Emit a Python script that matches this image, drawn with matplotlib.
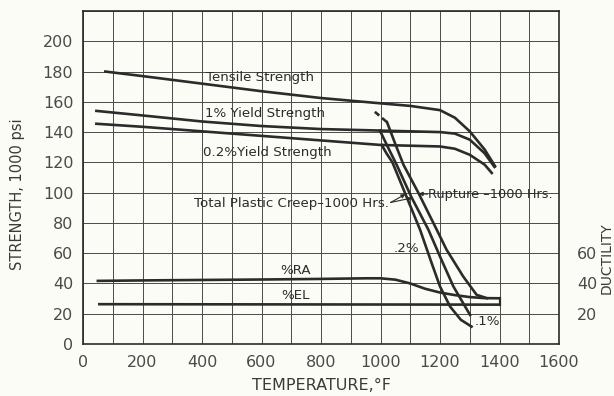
import matplotlib
matplotlib.use("Agg")
import matplotlib.pyplot as plt
import numpy as np

# Temperature (deg F) and strength (1000 psi) readings for each curve
tensile_T = [75, 200, 400, 600, 800, 1000, 1100, 1200, 1250, 1300, 1350, 1385]
tensile_S = [180, 177, 172, 167, 162.5, 159, 157.3, 154.5, 149.5, 140.5, 128.5, 117.5]

yield1_T = [45, 200, 400, 600, 800, 1000, 1200, 1250, 1300, 1350, 1383]
yield1_S = [154, 151, 147, 144, 142, 141, 140, 139, 135, 126, 117]

yield02_T = [45, 200, 400, 600, 800, 1000, 1200, 1250, 1300, 1350, 1374]
yield02_S = [145.5, 143.5, 140.5, 137.5, 134.5, 131.5, 130.5, 129, 125, 118.5, 113]

creep01_T = [1004, 1020, 1040, 1085, 1133, 1172, 1200, 1234, 1270, 1306]
creep01_S = [131.5, 126, 120, 98.5, 75.5, 53.4, 38, 24.7, 16, 11.5]

creep02_T = [998, 1026, 1054, 1104, 1161, 1200, 1245, 1301]
creep02_S = [141, 129.6, 118.5, 97, 75.5, 57.8, 38, 19.2]

rupture_dash_T = [981, 1022]
rupture_dash_S = [153.4, 146.5]
rupture_T = [1022, 1050, 1077, 1127, 1189, 1222, 1278, 1323, 1357]
rupture_S = [146.5, 132, 118.5, 100, 75.5, 62.3, 44.6, 32.5, 30.3]

# Ductility (%) readings
ra_T = [50, 200, 400, 600, 800, 950, 1000, 1050, 1100, 1150, 1200, 1250, 1300, 1350, 1400]
ra_S = [41.7, 42, 42.3, 42.6, 43, 43.4, 43.4, 42.5, 40, 36.5, 34, 32.3, 31, 30.3, 30.2]

el_T = [55, 1400]
el_S = [26.3, 26.0]

x_ticks = [0, 200, 400, 600, 800, 1000, 1200, 1400, 1600]
y_ticks = [0, 20, 40, 60, 80, 100, 120, 140, 160, 180, 200]
duct_ticks = [20, 40, 60]

bg = "#fcfcf6"
ink = "#2b2b2b"
grid_c = "#4a4a4a"
label_c = "#4a4a4a"

fig = plt.figure(figsize=(6.14, 3.96), dpi=100, facecolor=bg)
ax = fig.add_axes([83 / 614, 52 / 396, (559 - 83) / 614, (344 - 11) / 396])
ax.set_facecolor(bg)

ax.set_xlim(0, 1600)
ax.set_ylim(0, 220)
ax.set_xticks(np.arange(0, 1601, 100))
ax.set_yticks(np.arange(0, 221, 20))
ax.set_xticklabels([str(t) if t in x_ticks else "" for t in range(0, 1601, 100)])
ax.set_yticklabels([str(t) if t in y_ticks else "" for t in range(0, 221, 20)])
ax.grid(True, color=grid_c, lw=0.7)
ax.set_axisbelow(True)
ax.tick_params(length=0, labelsize=11.5, labelcolor=label_c)
ax.tick_params(axis="y", pad=7)
ax.tick_params(axis="x", pad=8)
for s in ax.spines.values():
    s.set_color(ink)
    s.set_linewidth(1.2)

lw = 1.9
ax.plot(tensile_T, tensile_S, color=ink, lw=lw)
ax.plot(yield1_T, yield1_S, color=ink, lw=lw)
ax.plot(yield02_T, yield02_S, color=ink, lw=lw)
ax.plot(creep01_T, creep01_S, color=ink, lw=lw)
ax.plot(creep02_T, creep02_S, color=ink, lw=lw)
ax.plot(rupture_dash_T, rupture_dash_S, color=ink, lw=lw, ls=(0, (2.2, 1.4)))
ax.plot(rupture_T, rupture_S, color=ink, lw=lw)
ax.plot(ra_T, ra_S, color=ink, lw=lw)
ax.plot(el_T, el_S, color=ink, lw=lw)
ax.plot([ra_T[-1], el_T[-1]], [ra_S[-1], el_S[-1]], color=ink, lw=1.6)

fs = 9.6
ax.text(413, 176, "Tensile Strength", fontsize=fs, color=ink, va="center")
ax.text(410, 152, "1% Yield Strength", fontsize=fs, color=ink, va="center")
ax.text(405, 126.5, "0.2%Yield Strength", fontsize=fs, color=ink, va="center")
ax.text(1028, 92.7, "Total Plastic Creep\u20131000 Hrs.", fontsize=fs, color=ink,
        va="center", ha="right")
ax.text(1160, 98.7, "Rupture \u20131000 Hrs.", fontsize=9.3, color=ink, va="center")
ax.text(1043, 63, ".2%", fontsize=fs, color=ink, va="center")
ax.text(1318, 14.8, ".1%", fontsize=fs, color=ink, va="center")
ax.text(715, 48.5, "%RA", fontsize=fs, color=ink, va="center", ha="center")
ax.text(715, 31.8, "%EL", fontsize=fs, color=ink, va="center", ha="center")

arrow = dict(arrowstyle="-|>", lw=0.8, color=ink, mutation_scale=6, shrinkA=0, shrinkB=0)
ax.annotate("", xy=(1084, 99), xytext=(1034, 93.5), arrowprops=arrow)
ax.annotate("", xy=(1106, 96.5), xytext=(1034, 93.5), arrowprops=arrow)
ax.annotate("", xy=(1128, 99.3), xytext=(1158, 99.0), arrowprops=arrow)

ax.set_xlabel("TEMPERATURE,\u00b0F", fontsize=11.5, color="#3a3a3a", labelpad=6)
ax.set_ylabel("STRENGTH, 1000 psi", fontsize=10.5, color="#3a3a3a")
ax.yaxis.set_label_coords(-0.122, 0.45)

ax2 = ax.twinx()
ax2.set_ylim(0, 220)
ax2.set_yticks(duct_ticks)
ax2.tick_params(length=0, labelsize=11.5, labelcolor=label_c, pad=13)
for s in ax2.spines.values():
    s.set_visible(False)
ax.text((607 - 83) / 476, (344 - 258) / 333, "DUCTILITY", transform=ax.transAxes,
        rotation=90, fontsize=10, color="#3a3a3a", ha="center", va="center", clip_on=False)

fig.savefig("out.png", dpi=100, facecolor=bg)
